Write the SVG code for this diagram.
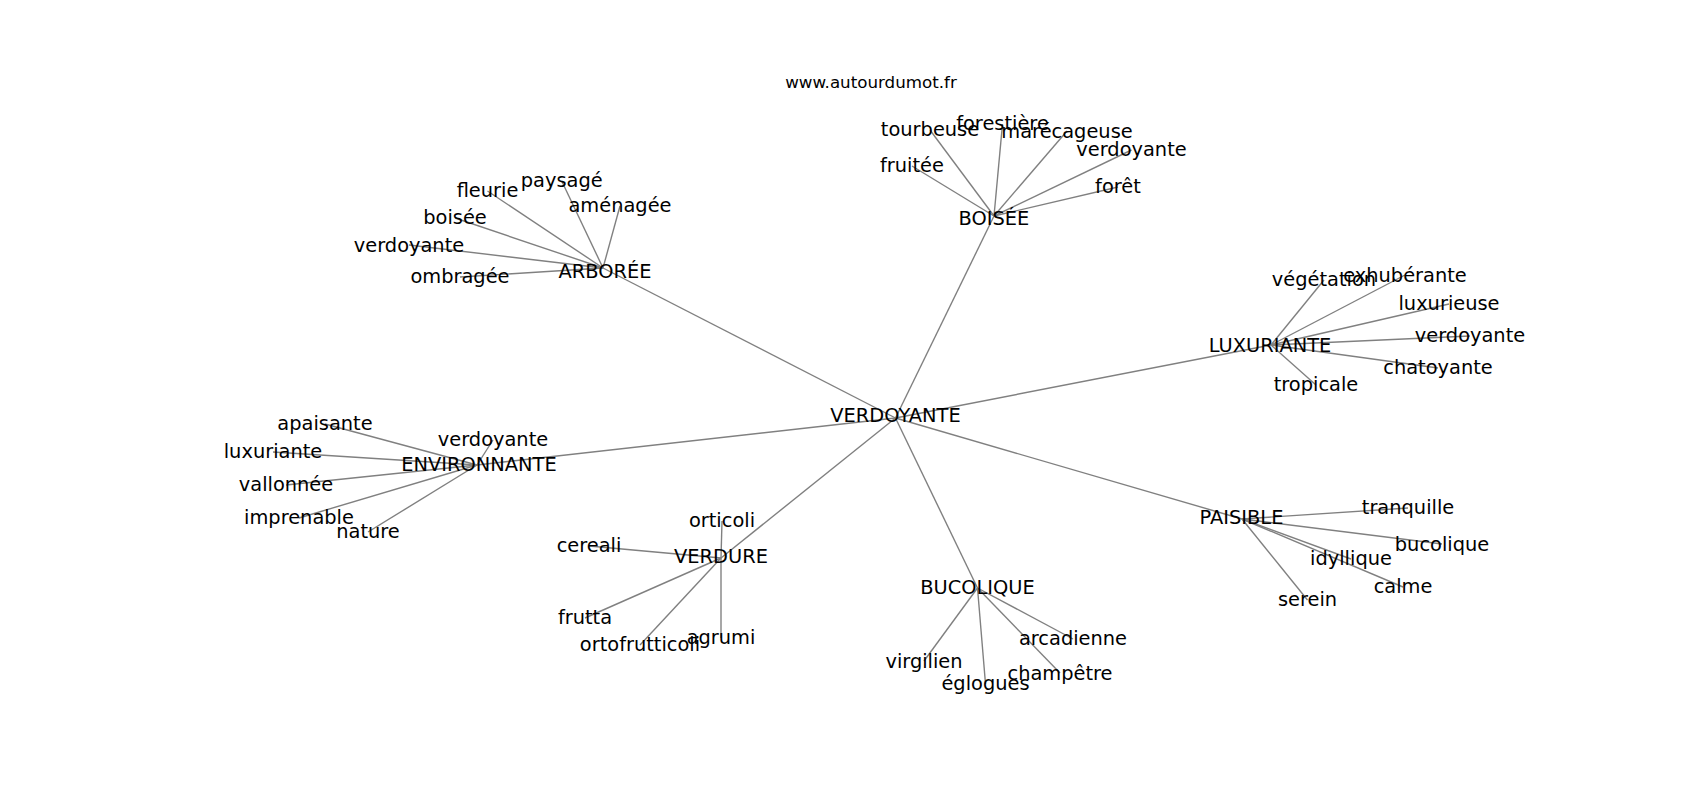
<svg xmlns="http://www.w3.org/2000/svg" width="1700" height="800" viewBox="0 0 1700 800">
<style>
.bg{fill:#ffffff}
.t{font-family:"DejaVu Sans","Liberation Sans",sans-serif;font-size:19.4px;fill:#000;text-anchor:middle}
.title{font-family:"DejaVu Sans","Liberation Sans",sans-serif;font-size:16.7px;fill:#000;text-anchor:middle}
.e line{stroke:#808080;stroke-width:1.39;fill:none}
</style>
<rect class="bg" x="0" y="0" width="1700" height="800"/>
<text class="title" x="871" y="88">www.autourdumot.fr</text>
<g id="connectors" class="e">
<line x1="895.5" y1="418" x2="994" y2="216"/>
<line x1="895.5" y1="418" x2="603" y2="268"/>
<line x1="895.5" y1="418" x2="1271" y2="345"/>
<line x1="895.5" y1="418" x2="477" y2="465"/>
<line x1="895.5" y1="418" x2="721" y2="558"/>
<line x1="895.5" y1="418" x2="977.5" y2="588"/>
<line x1="895.5" y1="418" x2="1242" y2="519"/>
<line x1="994" y1="216" x2="930" y2="130"/>
<line x1="994" y1="216" x2="1002.5" y2="124"/>
<line x1="994" y1="216" x2="1067" y2="131"/>
<line x1="994" y1="216" x2="1131.5" y2="150"/>
<line x1="994" y1="216" x2="912" y2="166"/>
<line x1="994" y1="216" x2="1118" y2="187"/>
<line x1="603" y1="268" x2="487.5" y2="191"/>
<line x1="603" y1="268" x2="561.7" y2="181"/>
<line x1="603" y1="268" x2="620" y2="206"/>
<line x1="603" y1="268" x2="455" y2="218"/>
<line x1="603" y1="268" x2="409" y2="245"/>
<line x1="603" y1="268" x2="460" y2="277"/>
<line x1="1271" y1="345" x2="1324" y2="280"/>
<line x1="1271" y1="345" x2="1405" y2="275"/>
<line x1="1271" y1="345" x2="1449" y2="304"/>
<line x1="1271" y1="345" x2="1470" y2="336"/>
<line x1="1271" y1="345" x2="1438" y2="368"/>
<line x1="1271" y1="345" x2="1316" y2="385"/>
<line x1="477" y1="465" x2="325" y2="424"/>
<line x1="477" y1="465" x2="273" y2="452"/>
<line x1="477" y1="465" x2="286" y2="485"/>
<line x1="477" y1="465" x2="299" y2="518"/>
<line x1="477" y1="465" x2="368" y2="532"/>
<line x1="477" y1="465" x2="493" y2="440"/>
<line x1="721" y1="558" x2="722" y2="521"/>
<line x1="721" y1="558" x2="589" y2="546"/>
<line x1="721" y1="558" x2="585" y2="618"/>
<line x1="721" y1="558" x2="640" y2="645"/>
<line x1="721" y1="558" x2="721" y2="638"/>
<line x1="977.5" y1="588" x2="1073" y2="639"/>
<line x1="977.5" y1="588" x2="924" y2="661"/>
<line x1="977.5" y1="588" x2="1060" y2="673"/>
<line x1="977.5" y1="588" x2="985.5" y2="684"/>
<line x1="1242" y1="519" x2="1408" y2="508"/>
<line x1="1242" y1="519" x2="1442" y2="544"/>
<line x1="1242" y1="519" x2="1351" y2="559"/>
<line x1="1242" y1="519" x2="1403" y2="587"/>
<line x1="1242" y1="519" x2="1307.5" y2="600"/>
</g>
<g id="n-verdoyante"><text class="t" x="895.5" y="421.7">VERDOYANTE</text></g>
<g id="n-boisee"><text class="t" x="994" y="225">BOISÉE</text></g>
<g id="n-tourbeuse"><text class="t" x="930" y="136">tourbeuse</text></g>
<g id="n-forestiere"><text class="t" x="1002.5" y="130">forestière</text></g>
<g id="n-marecageuse"><text class="t" x="1067" y="137.5">marécageuse</text></g>
<g id="n-verdoyante-b"><text class="t" x="1131.5" y="156">verdoyante</text></g>
<g id="n-fruitee"><text class="t" x="912" y="172">fruitée</text></g>
<g id="n-foret"><text class="t" x="1118" y="193">forêt</text></g>
<g id="n-arboree"><text class="t" x="605" y="278">ARBORÉE</text></g>
<g id="n-fleurie"><text class="t" x="487.5" y="197">fleurie</text></g>
<g id="n-paysage"><text class="t" x="561.7" y="187">paysagé</text></g>
<g id="n-amenagee"><text class="t" x="620" y="212">aménagée</text></g>
<g id="n-boisee-a"><text class="t" x="455" y="224">boisée</text></g>
<g id="n-verdoyante-a"><text class="t" x="409" y="251.5">verdoyante</text></g>
<g id="n-ombragee"><text class="t" x="460" y="283">ombragée</text></g>
<g id="n-luxuriante"><text class="t" x="1270" y="351.7">LUXURIANTE</text></g>
<g id="n-vegetation"><text class="t" x="1324" y="285.5">végétation</text></g>
<g id="n-exhuberante"><text class="t" x="1405" y="281.5">exhubérante</text></g>
<g id="n-luxurieuse"><text class="t" x="1449" y="310">luxurieuse</text></g>
<g id="n-verdoyante-l"><text class="t" x="1470" y="342">verdoyante</text></g>
<g id="n-chatoyante"><text class="t" x="1438" y="374">chatoyante</text></g>
<g id="n-tropicale"><text class="t" x="1316" y="391">tropicale</text></g>
<g id="n-environnante"><text class="t" x="479" y="471">ENVIRONNANTE</text></g>
<g id="n-apaisante"><text class="t" x="325" y="430">apaisante</text></g>
<g id="n-luxuriante-e"><text class="t" x="273" y="458">luxuriante</text></g>
<g id="n-vallonnee"><text class="t" x="286" y="491">vallonnée</text></g>
<g id="n-imprenable"><text class="t" x="299" y="524">imprenable</text></g>
<g id="n-nature"><text class="t" x="368" y="538">nature</text></g>
<g id="n-verdoyante-e"><text class="t" x="493" y="446">verdoyante</text></g>
<g id="n-verdure"><text class="t" x="721" y="562.5">VERDURE</text></g>
<g id="n-orticoli"><text class="t" x="722" y="527">orticoli</text></g>
<g id="n-cereali"><text class="t" x="589" y="552">cereali</text></g>
<g id="n-frutta"><text class="t" x="585" y="623.5">frutta</text></g>
<g id="n-ortofrutticoli"><text class="t" x="640" y="651">ortofrutticoli</text></g>
<g id="n-agrumi"><text class="t" x="721" y="644">agrumi</text></g>
<g id="n-bucolique"><text class="t" x="977.5" y="593.5">BUCOLIQUE</text></g>
<g id="n-arcadienne"><text class="t" x="1073" y="645">arcadienne</text></g>
<g id="n-virgilien"><text class="t" x="924" y="667.5">virgilien</text></g>
<g id="n-champetre"><text class="t" x="1060" y="679.5">champêtre</text></g>
<g id="n-eglogues"><text class="t" x="985.5" y="690">églogues</text></g>
<g id="n-paisible"><text class="t" x="1241.5" y="524">PAISIBLE</text></g>
<g id="n-tranquille"><text class="t" x="1408" y="513.5">tranquille</text></g>
<g id="n-bucolique-p"><text class="t" x="1442" y="550.5">bucolique</text></g>
<g id="n-idyllique"><text class="t" x="1351" y="565">idyllique</text></g>
<g id="n-calme"><text class="t" x="1403" y="593">calme</text></g>
<g id="n-serein"><text class="t" x="1307.5" y="606">serein</text></g>
</svg>
